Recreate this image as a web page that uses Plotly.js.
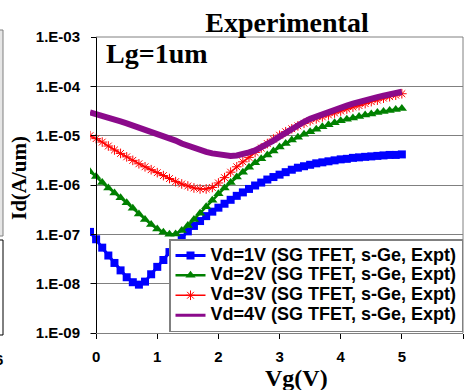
<!DOCTYPE html>
<html>
<head>
<meta charset="utf-8">
<script src="https://cdn.plot.ly/plotly-3.0.1.min.js"></script>
<style>html,body{margin:0;padding:0;background:#fff;}#chart{width:464px;height:390px;}</style>
</head>
<body>
<div id="chart"></div>
<script>
// Gate voltage (V)
const vg = [-0.1,0.0,0.1,0.2,0.3,0.4,0.5,0.6,0.7,0.8,0.9,1.0,1.1,1.2,1.3,1.4,1.5,1.6,1.7,1.8,1.9,2.0,2.1,2.2,2.3,2.4,2.5,2.6,2.7,2.8,2.9,3.0,3.1,3.2,3.3,3.4,3.5,3.6,3.7,3.8,3.9,4.0,4.1,4.2,4.3,4.4,4.5,4.6,4.7,4.8,4.9,5.0];
// Drain current Id (A/um)
const id_vd1 = [1.12e-7,7.94e-8,5.37e-8,3.72e-8,2.63e-8,1.86e-8,1.35e-8,1.07e-8,9.55e-9,1.10e-8,1.55e-8,2.19e-8,3.02e-8,4.37e-8,6.03e-8,8.51e-8,1.15e-7,1.48e-7,1.86e-7,2.34e-7,2.88e-7,3.47e-7,4.17e-7,5.01e-7,6.03e-7,7.08e-7,8.32e-7,9.77e-7,1.12e-6,1.29e-6,1.45e-6,1.62e-6,1.82e-6,2.04e-6,2.24e-6,2.40e-6,2.57e-6,2.75e-6,2.88e-6,3.02e-6,3.16e-6,3.31e-6,3.39e-6,3.55e-6,3.63e-6,3.72e-6,3.80e-6,3.89e-6,3.98e-6,4.07e-6,4.07e-6,4.17e-6];
const id_vd2 = [1.86e-6,1.48e-6,1.12e-6,8.71e-7,6.92e-7,5.50e-7,4.37e-7,3.39e-7,2.57e-7,2.00e-7,1.58e-7,1.29e-7,1.10e-7,1.00e-7,1.02e-7,1.20e-7,1.51e-7,2.00e-7,2.69e-7,3.63e-7,4.90e-7,6.61e-7,8.71e-7,1.12e-6,1.45e-6,1.82e-6,2.29e-6,2.82e-6,3.39e-6,4.07e-6,4.90e-6,5.89e-6,6.92e-6,8.13e-6,9.33e-6,1.07e-5,1.20e-5,1.35e-5,1.51e-5,1.66e-5,1.82e-5,2.00e-5,2.14e-5,2.29e-5,2.45e-5,2.63e-5,2.75e-5,2.95e-5,3.09e-5,3.24e-5,3.39e-5,3.55e-5];
const id_vd3 = [1.00e-5,8.71e-6,7.41e-6,6.17e-6,5.13e-6,4.37e-6,3.72e-6,3.16e-6,2.69e-6,2.34e-6,2.04e-6,1.78e-6,1.55e-6,1.35e-6,1.17e-6,1.05e-6,9.55e-7,8.71e-7,8.32e-7,8.32e-7,8.91e-7,1.10e-6,1.41e-6,1.82e-6,2.34e-6,2.95e-6,3.63e-6,4.57e-6,5.62e-6,6.92e-6,8.51e-6,1.02e-5,1.20e-5,1.38e-5,1.58e-5,1.78e-5,2.00e-5,2.19e-5,2.40e-5,2.63e-5,2.88e-5,3.16e-5,3.47e-5,3.80e-5,4.07e-5,4.47e-5,4.90e-5,5.25e-5,5.75e-5,6.17e-5,6.61e-5,7.08e-5];
const id_vd4 = [2.95e-5,2.75e-5,2.57e-5,2.34e-5,2.14e-5,1.95e-5,1.78e-5,1.62e-5,1.48e-5,1.35e-5,1.23e-5,1.12e-5,1.00e-5,8.91e-6,7.94e-6,6.92e-6,6.17e-6,5.62e-6,5.13e-6,4.68e-6,4.37e-6,4.17e-6,3.98e-6,3.89e-6,3.98e-6,4.17e-6,4.57e-6,5.01e-6,5.75e-6,6.76e-6,7.94e-6,9.55e-6,1.15e-5,1.38e-5,1.66e-5,1.91e-5,2.19e-5,2.45e-5,2.75e-5,3.09e-5,3.39e-5,3.72e-5,4.07e-5,4.47e-5,4.90e-5,5.25e-5,5.62e-5,6.03e-5,6.46e-5,6.92e-5,7.41e-5,7.76e-5];
const seriesNames = ['Vd=1V (SG TFET, s-Ge, Expt)','Vd=2V (SG TFET, s-Ge, Expt)','Vd=3V (SG TFET, s-Ge, Expt)','Vd=4V (SG TFET, s-Ge, Expt)'];
const yTickVals = [1e-9,1e-8,1e-7,1e-6,1e-5,1e-4,1e-3];
const yTickText = ['1.E-09','1.E-08','1.E-07','1.E-06','1.E-05','1.E-04','1.E-03'];
const xTickVals = [0,1,2,3,4,5,6];

const sans = 'Liberation Sans, Arial, sans-serif';
const serif = 'Liberation Serif, Times New Roman, serif';
const purple = '#8B0A8B';
function legName(s){ return '<span style="font-size:18px">' + s + '</span>'; }

const traces = [
  {x: vg, y: id_vd1, name: legName(seriesNames[0]), mode: 'lines+markers',
   line: {color: '#0000FF', width: 3}, marker: {symbol: 'square', size: 8, color: '#0000FF'}},
  {x: vg, y: id_vd2, name: legName(seriesNames[1]), mode: 'lines+markers',
   line: {color: '#008000', width: 2.5}, marker: {symbol: 'triangle-up', size: 9, color: '#008000'}},
  {x: vg, y: id_vd3, name: legName(seriesNames[2]), mode: 'lines+markers',
   line: {color: '#FF0000', width: 1.5}, marker: {symbol: 'asterisk-open', size: 8, color: '#FF0000', line: {color: '#FF0000', width: 1}}},
  {x: vg, y: id_vd4, name: seriesNames[3], mode: 'lines', showlegend: false,
   line: {color: purple, width: 6}},
  // legend entry for the Vd=4V series (thinner sample line as in the original legend)
  {x: [null], y: [null], name: legName(seriesNames[3]), mode: 'lines', showlegend: true,
   line: {color: purple, width: 3}}
];

function px(p){ return (p-90)/373; }
function py(p){ return (333-p)/296; }

const layout = {
  width: 464, height: 390,
  margin: {l: 90, r: 1, t: 37, b: 57},
  paper_bgcolor: '#fff', plot_bgcolor: '#fff',
  showlegend: true,
  title: {text: '<b>Experimental</b>', font: {family: serif, size: 28, color: '#000'},
          x: px(287), xref: 'paper', xanchor: 'center', y: 1 - 22/390, yref: 'container', yanchor: 'middle'},
  xaxis: {range: [-0.1, 6], tickvals: xTickVals, ticks: 'outside', ticklen: 5, tickcolor: '#000',
          showgrid: false, zeroline: false, showline: true, linecolor: '#808080', linewidth: 1,
          tickfont: {family: sans, size: 15, color: '#000', weight: 'bold'}, ticklabelstandoff: 5},
  yaxis: {type: 'log', range: [-9, -3], tickvals: yTickVals, ticktext: yTickText,
          anchor: 'free', position: px(96), ticks: 'outside', ticklen: 5, tickcolor: '#000',
          showline: true, linecolor: '#000', linewidth: 1, showgrid: true, gridcolor: '#808080', gridwidth: 1,
          zeroline: false, tickfont: {family: sans, size: 15, color: '#000', weight: 'bold'}, ticklabelstandoff: 8},
  legend: {x: px(169), y: py(239), xanchor: 'left', yanchor: 'top', bgcolor: '#fff',
           bordercolor: '#808080', borderwidth: 1.5, traceorder: 'normal',
           font: {family: sans, size: 13, color: '#000', weight: 'bold'}},
  shapes: [
    {type: 'line', xref: 'paper', yref: 'paper', x0: 1, x1: 1, y0: 0, y1: 1, line: {color: '#808080', width: 1}},
    {type: 'line', xref: 'paper', yref: 'paper', x0: px(96), x1: 1, y0: 1, y1: 1, line: {color: '#808080', width: 1}},
    {type: 'rect', xref: 'paper', yref: 'paper', x0: px(-2), x1: px(3), y0: py(236), y1: py(30), fillcolor: '#e6e6e6', line: {color: '#808080', width: 1}},
    {type: 'rect', xref: 'paper', yref: 'paper', x0: px(-2), x1: px(3), y0: py(335), y1: py(240), fillcolor: 'rgba(0,0,0,0)', line: {color: '#000', width: 1}}
  ],
  annotations: [
    {text: '<b>Lg=1um</b>', xref: 'paper', yref: 'paper', x: px(104), y: py(53), xanchor: 'left', yanchor: 'middle',
     showarrow: false, font: {family: serif, size: 28, color: '#000'}},
    {text: '<b>Id(A/um)</b>', xref: 'paper', yref: 'paper', x: px(19), y: py(178), xanchor: 'center', yanchor: 'middle',
     textangle: -90, showarrow: false, font: {family: serif, size: 21, color: '#000'}},
    {text: '<b>Vg(V)</b>', xref: 'paper', yref: 'paper', x: px(296), y: py(378), xanchor: 'center', yanchor: 'middle',
     showarrow: false, font: {family: serif, size: 24, color: '#000'}},
    {text: '<b>6</b>', xref: 'paper', yref: 'paper', x: px(-1), y: py(359), xanchor: 'center', yanchor: 'middle',
     showarrow: false, font: {family: sans, size: 15, color: '#000'}}
  ]
};

Plotly.newPlot('chart', traces, layout, {displayModeBar: false, staticPlot: true});
</script>
</body>
</html>
